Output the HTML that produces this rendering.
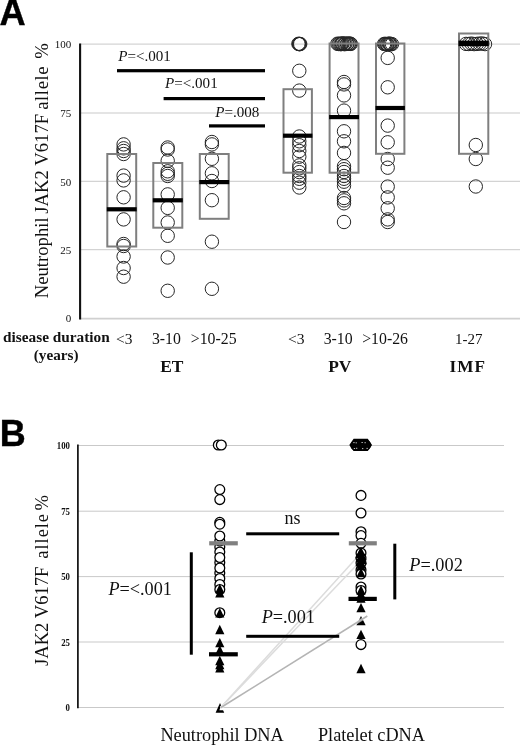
<!DOCTYPE html>
<html><head><meta charset="utf-8"><title>Figure</title>
<style>
html,body{margin:0;padding:0;background:#fff;}
body{width:520px;height:747px;overflow:hidden;}
svg{display:block;}
text{font-family:"Liberation Serif",serif;fill:#111;}
.sans{stroke:#000;stroke-width:0.4px;font-family:"Liberation Sans",sans-serif;font-weight:bold;fill:#000;}
.b{font-weight:bold;}
.i{font-style:italic;}
.tick{font-size:11px;text-anchor:end;}
.ca{fill:none;stroke:#262626;stroke-width:1;}
.cb{fill:#fff;stroke:#000;stroke-width:1.3;}
.box{fill:none;stroke:#7f7f7f;stroke-width:2;}
.grid{stroke:#c9c9c9;stroke-width:1;}
.tri{fill:#000;}
</style></head><body>
<svg width="520" height="747" viewBox="0 0 520 747">
<rect width="520" height="747" fill="#fff"/>

<text class="sans" x="-0.6" y="24.8" font-size="36.2">A</text>
<line class="grid" x1="80" y1="44.1" x2="520" y2="44.1"/>
<line class="grid" x1="80" y1="113.0" x2="520" y2="113.0"/>
<line class="grid" x1="80" y1="181.3" x2="520" y2="181.3"/>
<line class="grid" x1="80" y1="249.7" x2="520" y2="249.7"/>
<line x1="80" y1="318.6" x2="520" y2="318.6" stroke="#d0d0d0" stroke-width="1.9"/>
<line x1="80.1" y1="43.5" x2="80.1" y2="319.4" stroke="#111" stroke-width="2.1"/>
<text class="tick" x="71.3" y="48.4">100</text>
<text class="tick" x="71.3" y="117.3">75</text>
<text class="tick" x="71.3" y="185.6">50</text>
<text class="tick" x="71.3" y="254.0">25</text>
<text class="tick" x="71.3" y="322.1">0</text>
<text transform="translate(47.8,298.3) rotate(-90)" font-size="18.7">Neutrophil <tspan dx="-1">JAK2 V617F </tspan><tspan dx="-0.7" letter-spacing="0.6">allele</tspan><tspan dx="2.4"> %</tspan></text>
<circle class="ca" cx="123.6" cy="144.4" r="6.7"/>
<circle class="ca" cx="123.6" cy="148.3" r="6.7"/>
<circle class="ca" cx="123.6" cy="151.0" r="6.7"/>
<circle class="ca" cx="123.6" cy="154.0" r="6.7"/>
<circle class="ca" cx="123.6" cy="175.6" r="6.7"/>
<circle class="ca" cx="123.6" cy="180.4" r="6.7"/>
<circle class="ca" cx="123.6" cy="197.3" r="6.7"/>
<circle class="ca" cx="123.6" cy="219.4" r="6.7"/>
<circle class="ca" cx="123.6" cy="244.0" r="6.7"/>
<circle class="ca" cx="123.6" cy="246.0" r="6.7"/>
<circle class="ca" cx="123.6" cy="256.5" r="6.7"/>
<circle class="ca" cx="123.6" cy="268.0" r="6.7"/>
<circle class="ca" cx="123.6" cy="276.7" r="6.7"/>
<rect class="box" x="107.3" y="154" width="28.9" height="92.5"/>
<rect x="106.8" y="207.2" width="29.9" height="4.2" fill="#000"/>
<circle class="ca" cx="167.7" cy="147.5" r="6.7"/>
<circle class="ca" cx="167.7" cy="149.5" r="6.7"/>
<circle class="ca" cx="167.7" cy="160.8" r="6.7"/>
<circle class="ca" cx="167.7" cy="171.3" r="6.7"/>
<circle class="ca" cx="167.7" cy="173.8" r="6.7"/>
<circle class="ca" cx="167.7" cy="176.0" r="6.7"/>
<circle class="ca" cx="167.7" cy="194.4" r="6.7"/>
<circle class="ca" cx="167.7" cy="207.9" r="6.7"/>
<circle class="ca" cx="167.7" cy="222.5" r="6.7"/>
<circle class="ca" cx="167.7" cy="235.8" r="6.7"/>
<circle class="ca" cx="167.7" cy="257.5" r="6.7"/>
<circle class="ca" cx="167.7" cy="290.8" r="6.7"/>
<rect class="box" x="153.3" y="163" width="29.0" height="64.7"/>
<rect x="152.8" y="198.2" width="30.0" height="4.2" fill="#000"/>
<circle class="ca" cx="211.9" cy="142.0" r="6.7"/>
<circle class="ca" cx="211.9" cy="144.4" r="6.7"/>
<circle class="ca" cx="211.9" cy="158.8" r="6.7"/>
<circle class="ca" cx="211.9" cy="173.3" r="6.7"/>
<circle class="ca" cx="211.9" cy="181.0" r="6.7"/>
<circle class="ca" cx="211.9" cy="200.2" r="6.7"/>
<circle class="ca" cx="211.9" cy="241.7" r="6.7"/>
<circle class="ca" cx="211.9" cy="288.8" r="6.7"/>
<rect class="box" x="199.8" y="154" width="28.9" height="64.8"/>
<rect x="199.3" y="180.0" width="29.9" height="4.2" fill="#000"/>
<circle class="ca" cx="299.3" cy="70.8" r="6.7"/>
<circle class="ca" cx="299.3" cy="90.6" r="6.7"/>
<circle class="ca" cx="299.3" cy="136.5" r="6.7"/>
<circle class="ca" cx="299.3" cy="141.3" r="6.7"/>
<circle class="ca" cx="299.3" cy="145.2" r="6.7"/>
<circle class="ca" cx="299.3" cy="151.0" r="6.7"/>
<circle class="ca" cx="299.3" cy="156.7" r="6.7"/>
<circle class="ca" cx="299.3" cy="165.4" r="6.7"/>
<circle class="ca" cx="299.3" cy="168.3" r="6.7"/>
<circle class="ca" cx="299.3" cy="172.1" r="6.7"/>
<circle class="ca" cx="299.3" cy="176.0" r="6.7"/>
<circle class="ca" cx="299.3" cy="178.8" r="6.7"/>
<circle class="ca" cx="299.3" cy="182.7" r="6.7"/>
<circle class="ca" cx="299.3" cy="187.5" r="6.7"/>
<circle class="ca" cx="298.4" cy="43.8" r="6.7"/>
<circle class="ca" cx="299.0" cy="44.0" r="6.7"/>
<circle class="ca" cx="299.6" cy="44.1" r="6.7"/>
<circle class="ca" cx="300.2" cy="44.0" r="6.7"/>
<circle class="ca" cx="299.3" cy="44.1" r="6.7"/>
<rect class="box" x="283.5" y="89.2" width="28.4" height="83.5"/>
<rect x="283.0" y="133.6" width="29.4" height="4.2" fill="#000"/>
<circle class="ca" cx="344.0" cy="82.0" r="6.7"/>
<circle class="ca" cx="344.0" cy="84.4" r="6.7"/>
<circle class="ca" cx="344.0" cy="95.4" r="6.7"/>
<circle class="ca" cx="344.0" cy="110.6" r="6.7"/>
<circle class="ca" cx="344.0" cy="131.3" r="6.7"/>
<circle class="ca" cx="344.0" cy="141.3" r="6.7"/>
<circle class="ca" cx="344.0" cy="152.9" r="6.7"/>
<circle class="ca" cx="344.0" cy="166.3" r="6.7"/>
<circle class="ca" cx="344.0" cy="169.2" r="6.7"/>
<circle class="ca" cx="344.0" cy="172.0" r="6.7"/>
<circle class="ca" cx="344.0" cy="176.0" r="6.7"/>
<circle class="ca" cx="344.0" cy="178.8" r="6.7"/>
<circle class="ca" cx="344.0" cy="181.7" r="6.7"/>
<circle class="ca" cx="344.0" cy="185.6" r="6.7"/>
<circle class="ca" cx="344.0" cy="198.0" r="6.7"/>
<circle class="ca" cx="344.0" cy="200.4" r="6.7"/>
<circle class="ca" cx="344.0" cy="203.3" r="6.7"/>
<circle class="ca" cx="344.0" cy="222.0" r="6.7"/>
<circle class="ca" cx="337.4" cy="43.7" r="6.7"/>
<circle class="ca" cx="338.5" cy="44.0" r="6.7"/>
<circle class="ca" cx="339.3" cy="43.8" r="6.7"/>
<circle class="ca" cx="340.4" cy="44.1" r="6.7"/>
<circle class="ca" cx="341.3" cy="44.1" r="6.7"/>
<circle class="ca" cx="341.8" cy="43.5" r="6.7"/>
<circle class="ca" cx="342.6" cy="43.5" r="6.7"/>
<circle class="ca" cx="344.1" cy="43.6" r="6.7"/>
<circle class="ca" cx="344.6" cy="44.2" r="6.7"/>
<circle class="ca" cx="345.5" cy="43.7" r="6.7"/>
<circle class="ca" cx="346.9" cy="43.9" r="6.7"/>
<circle class="ca" cx="347.4" cy="43.6" r="6.7"/>
<circle class="ca" cx="348.6" cy="43.8" r="6.7"/>
<circle class="ca" cx="349.2" cy="43.7" r="6.7"/>
<circle class="ca" cx="350.2" cy="43.7" r="6.7"/>
<circle class="ca" cx="350.8" cy="43.9" r="6.7"/>
<rect class="box" x="329.6" y="43.5" width="28.9" height="129.2"/>
<rect x="329.1" y="115.0" width="29.9" height="4.2" fill="#000"/>
<circle class="ca" cx="387.7" cy="57.9" r="6.7"/>
<circle class="ca" cx="387.7" cy="87.3" r="6.7"/>
<circle class="ca" cx="387.7" cy="125.6" r="6.7"/>
<circle class="ca" cx="387.7" cy="142.3" r="6.7"/>
<circle class="ca" cx="387.7" cy="159.0" r="6.7"/>
<circle class="ca" cx="387.7" cy="167.7" r="6.7"/>
<circle class="ca" cx="387.7" cy="186.6" r="6.7"/>
<circle class="ca" cx="387.7" cy="197.4" r="6.7"/>
<circle class="ca" cx="387.7" cy="208.3" r="6.7"/>
<circle class="ca" cx="387.7" cy="219.4" r="6.7"/>
<circle class="ca" cx="387.7" cy="222.0" r="6.7"/>
<circle class="ca" cx="384.1" cy="43.9" r="6.7"/>
<circle class="ca" cx="385.0" cy="44.1" r="6.7"/>
<circle class="ca" cx="385.6" cy="43.9" r="6.7"/>
<circle class="ca" cx="386.5" cy="44.1" r="6.7"/>
<circle class="ca" cx="387.2" cy="44.1" r="6.7"/>
<circle class="ca" cx="387.6" cy="44.2" r="6.7"/>
<circle class="ca" cx="388.8" cy="43.9" r="6.7"/>
<circle class="ca" cx="389.5" cy="43.5" r="6.7"/>
<circle class="ca" cx="390.1" cy="44.1" r="6.7"/>
<circle class="ca" cx="390.7" cy="44.2" r="6.7"/>
<circle class="ca" cx="392.0" cy="44.1" r="6.7"/>
<rect class="box" x="376" y="43.5" width="28.4" height="110.3"/>
<rect x="375.5" y="105.9" width="29.4" height="4.2" fill="#000"/>
<circle class="ca" cx="475.8" cy="145.0" r="6.7"/>
<circle class="ca" cx="475.8" cy="159.0" r="6.7"/>
<circle class="ca" cx="475.8" cy="186.5" r="6.7"/>
<circle class="ca" cx="466.0" cy="43.9" r="6.7"/>
<circle class="ca" cx="468.7" cy="44.0" r="6.7"/>
<circle class="ca" cx="471.4" cy="43.6" r="6.7"/>
<circle class="ca" cx="474.1" cy="44.1" r="6.7"/>
<circle class="ca" cx="476.9" cy="43.9" r="6.7"/>
<circle class="ca" cx="479.6" cy="43.6" r="6.7"/>
<circle class="ca" cx="482.3" cy="43.5" r="6.7"/>
<circle class="ca" cx="485.0" cy="44.1" r="6.7"/>
<rect class="box" x="459" y="33.5" width="29.3" height="120.3"/>
<rect x="458.5" y="40.6" width="30.3" height="5.6" fill="#000"/>
<rect x="117" y="69.10000000000001" width="148.0" height="3.2" fill="#000"/>
<rect x="163.6" y="97.0" width="101.4" height="3.2" fill="#000"/>
<rect x="209" y="124.30000000000001" width="56.0" height="3.2" fill="#000"/>
<text x="118.2" y="60.8" font-size="15.1"><tspan class="i">P</tspan>=&lt;.001</text>
<text x="165.0" y="88.2" font-size="15.1"><tspan class="i">P</tspan>=&lt;.001</text>
<text x="215.2" y="116.6" font-size="15.1"><tspan class="i">P</tspan>=.008</text>
<text class="b" x="3.1" y="341.5" font-size="15.3">disease duration</text>
<text class="b" x="33.8" y="359.6" font-size="15.2">(years)</text>
<text x="116.0" y="344" font-size="15.4">&lt;3</text>
<text x="151.9" y="344" font-size="15.8">3-10</text>
<text x="190.8" y="344" font-size="15.8">&gt;10-25</text>
<text x="288.0" y="344" font-size="15.6">&lt;3</text>
<text x="323.7" y="344" font-size="15.8">3-10</text>
<text x="362.2" y="344" font-size="15.8">&gt;10-26</text>
<text x="455" y="344" font-size="15">1-27</text>
<text class="b" x="160.2" y="371.6" font-size="17.4">ET</text>
<text class="b" x="328.2" y="371.6" font-size="17.4">PV</text>
<text class="b" x="449.6" y="371.6" font-size="17.2" letter-spacing="1">IMF</text>
<text class="sans" x="-0.2" y="446" font-size="36">B</text>
<line class="grid" x1="78" y1="445.5" x2="504" y2="445.5"/>
<line class="grid" x1="78" y1="511.2" x2="504" y2="511.2"/>
<line class="grid" x1="78" y1="576.6" x2="504" y2="576.6"/>
<line class="grid" x1="78" y1="642" x2="504" y2="642"/>
<line class="grid" x1="78" y1="707.5" x2="504" y2="707.5"/>
<line x1="77.9" y1="444.5" x2="77.9" y2="708.2" stroke="#000" stroke-width="1.6"/>
<text class="tick b" transform="translate(70,449.1) scale(0.8,1)" x="0" y="0" font-size="11">100</text>
<text class="tick b" transform="translate(70,514.8) scale(0.8,1)" x="0" y="0" font-size="11">75</text>
<text class="tick b" transform="translate(70,580.2) scale(0.8,1)" x="0" y="0" font-size="11">50</text>
<text class="tick b" transform="translate(70,645.6) scale(0.8,1)" x="0" y="0" font-size="11">25</text>
<text class="tick b" transform="translate(70,711.1) scale(0.8,1)" x="0" y="0" font-size="11">0</text>
<text transform="translate(47.8,666) rotate(-90)" font-size="18.6">JAK2 V617F&#160; <tspan dx="-1.3" letter-spacing="0.9">allele</tspan><tspan dx="-2.1"> %</tspan></text>
<polygon points="220,703 215.6,712.8 224.2,712.8" fill="#000"/>
<polygon points="219.4,710.2 221.3,704.2 227,702 227,710.3" fill="#fff"/>
<line class="grid" x1="221" y1="707.5" x2="230" y2="707.5"/>
<line x1="220.5" y1="707.8" x2="361" y2="553" stroke="#dcdcdc" stroke-width="1.5"/>
<line x1="220.5" y1="707.8" x2="362" y2="559.5" stroke="#dcdcdc" stroke-width="1.5"/>
<circle class="cb" cx="218.3" cy="445.0" r="4.9"/>
<circle class="cb" cx="221.3" cy="445.0" r="4.9"/>
<circle class="cb" cx="219.8" cy="489.6" r="4.9"/>
<circle class="cb" cx="219.8" cy="499.6" r="4.9"/>
<circle class="cb" cx="219.8" cy="522.3" r="4.9"/>
<circle class="cb" cx="219.8" cy="524.2" r="4.9"/>
<circle class="cb" cx="219.8" cy="547.0" r="4.9"/>
<circle class="cb" cx="219.8" cy="541.0" r="4.9"/>
<circle class="cb" cx="219.8" cy="536.0" r="4.9"/>
<circle class="cb" cx="219.8" cy="552.0" r="4.9"/>
<circle class="cb" cx="219.8" cy="562.5" r="4.9"/>
<circle class="cb" cx="219.8" cy="557.5" r="4.9"/>
<circle class="cb" cx="219.8" cy="573.0" r="4.9"/>
<circle class="cb" cx="219.8" cy="568.0" r="4.9"/>
<circle class="cb" cx="219.8" cy="578.5" r="4.9"/>
<circle class="cb" cx="219.8" cy="584.5" r="4.9"/>
<circle class="cb" cx="219.8" cy="589.5" r="4.9"/>
<circle class="cb" cx="219.8" cy="612.7" r="4.9"/>
<polygon class="tri" points="219.8,583.8 215.2,593.2 224.4,593.2"/>
<polygon class="tri" points="219.8,588.0 215.2,597.4 224.4,597.4"/>
<polygon class="tri" points="219.8,608.1 215.2,617.5 224.4,617.5"/>
<polygon class="tri" points="219.8,624.8 215.2,634.2 224.4,634.2"/>
<polygon class="tri" points="219.8,637.9 215.2,647.3 224.4,647.3"/>
<polygon class="tri" points="219.8,645.3 215.2,654.7 224.4,654.7"/>
<polygon class="tri" points="219.8,655.8 215.2,665.2 224.4,665.2"/>
<polygon class="tri" points="219.8,659.8 215.2,669.2 224.4,669.2"/>
<polygon class="tri" points="219.8,663.1 215.2,672.5 224.4,672.5"/>
<rect x="209.2" y="541.2" width="28.6" height="4.2" fill="#808080"/>
<rect x="209" y="652.2" width="28.8" height="4.2" fill="#000"/>
<circle class="cb" cx="356.0" cy="445.4" r="4.9"/>
<circle class="cb" cx="356.9" cy="444.7" r="4.9"/>
<circle class="cb" cx="357.7" cy="445.2" r="4.9"/>
<circle class="cb" cx="358.6" cy="444.9" r="4.9"/>
<circle class="cb" cx="359.5" cy="444.7" r="4.9"/>
<circle class="cb" cx="360.3" cy="444.8" r="4.9"/>
<circle class="cb" cx="361.2" cy="445.2" r="4.9"/>
<circle class="cb" cx="362.0" cy="445.3" r="4.9"/>
<circle class="cb" cx="362.9" cy="444.6" r="4.9"/>
<circle class="cb" cx="363.8" cy="445.1" r="4.9"/>
<circle class="cb" cx="364.6" cy="444.6" r="4.9"/>
<circle class="cb" cx="365.5" cy="445.2" r="4.9"/>
<polygon points="349.3,445 353.6,438.8 367.8,438.8 372.1,445 367.8,451.1 353.6,451.1" fill="#000"/>
<rect x="353.3" y="442.2" width="1.3" height="0.9" fill="#fff" fill-opacity="0.85"/>
<rect x="355.6" y="442.4" width="1.3" height="0.9" fill="#fff" fill-opacity="0.85"/>
<rect x="361.5" y="442.0" width="1.3" height="0.9" fill="#fff" fill-opacity="0.85"/>
<rect x="364.5" y="442.3" width="1.3" height="0.9" fill="#fff" fill-opacity="0.85"/>
<rect x="353.8" y="448.0" width="1.3" height="0.9" fill="#fff" fill-opacity="0.85"/>
<rect x="356.0" y="447.8" width="1.3" height="0.9" fill="#fff" fill-opacity="0.85"/>
<rect x="362.0" y="448.2" width="1.3" height="0.9" fill="#fff" fill-opacity="0.85"/>
<rect x="366.5" y="447.9" width="1.3" height="0.9" fill="#fff" fill-opacity="0.85"/>
<circle class="cb" cx="361.0" cy="495.4" r="4.9"/>
<circle class="cb" cx="361.0" cy="513.0" r="4.9"/>
<circle class="cb" cx="361.0" cy="531.7" r="4.9"/>
<circle class="cb" cx="361.0" cy="535.6" r="4.9"/>
<circle class="cb" cx="361.0" cy="543.3" r="4.9"/>
<circle class="cb" cx="361.0" cy="553.0" r="4.9"/>
<circle class="cb" cx="361.0" cy="558.0" r="4.9"/>
<circle class="cb" cx="361.0" cy="563.0" r="4.9"/>
<circle class="cb" cx="361.0" cy="570.0" r="4.9"/>
<circle class="cb" cx="361.0" cy="574.0" r="4.9"/>
<circle class="cb" cx="361.0" cy="587.0" r="4.9"/>
<circle class="cb" cx="361.0" cy="590.5" r="4.9"/>
<circle class="cb" cx="361.0" cy="644.6" r="4.9"/>
<polygon class="tri" points="361.0,546.8 356.4,556.2 365.6,556.2"/>
<polygon class="tri" points="359.8,548.8 355.2,558.2 364.4,558.2"/>
<polygon class="tri" points="362.0,550.8 357.4,560.2 366.6,560.2"/>
<polygon class="tri" points="360.4,552.8 355.8,562.2 365.0,562.2"/>
<polygon class="tri" points="362.3,554.8 357.7,564.2 366.9,564.2"/>
<polygon class="tri" points="360.0,556.8 355.4,566.2 364.6,566.2"/>
<polygon class="tri" points="361.5,558.8 356.9,568.2 366.1,568.2"/>
<polygon class="tri" points="361.0,560.8 356.4,570.2 365.6,570.2"/>
<polygon class="tri" points="361.0,567.8 356.4,577.2 365.6,577.2"/>
<polygon class="tri" points="361.0,585.3 356.4,594.7 365.6,594.7"/>
<polygon class="tri" points="361.0,589.3 356.4,598.7 365.6,598.7"/>
<polygon class="tri" points="361.0,593.3 356.4,602.7 365.6,602.7"/>
<polygon class="tri" points="361.0,602.9 356.4,612.3 365.6,612.3"/>
<polygon class="tri" points="361.0,629.7 356.4,639.1 365.6,639.1"/>
<polygon class="tri" points="361.0,663.8 356.4,673.2 365.6,673.2"/>
<rect x="348.8" y="541.2" width="28" height="4.2" fill="#808080"/>
<rect x="348.5" y="596.8" width="28.3" height="4.2" fill="#000"/>
<polygon class="tri" points="361.0,615.9 356.4,625.3 365.6,625.3"/>
<line x1="220.5" y1="707.8" x2="367.3" y2="616" stroke="#fff" stroke-width="3" stroke-opacity="0.55"/>
<line x1="220.5" y1="707.8" x2="367.3" y2="616" stroke="#b4b4b4" stroke-width="1.6"/>
<rect x="189.8" y="552.3" width="3" height="102.4" fill="#000"/>
<rect x="393.3" y="543.7" width="3" height="55.7" fill="#000"/>
<rect x="246.2" y="532.3" width="93" height="3" fill="#000"/>
<rect x="246.2" y="634.8" width="93" height="3" fill="#000"/>
<text x="108.4" y="594.5" font-size="18.2"><tspan class="i">P</tspan>=&lt;.001</text>
<text x="261.7" y="622.5" font-size="18.2"><tspan class="i">P</tspan>=.001</text>
<text x="409.3" y="571.2" font-size="18.3"><tspan class="i">P</tspan>=.002</text>
<text x="284.5" y="524.3" font-size="18">ns</text>
<text x="160.4" y="741.2" font-size="18.3">Neutrophil DNA</text>
<text x="317.9" y="741.2" font-size="18.3">Platelet cDNA</text>
</svg></body></html>
